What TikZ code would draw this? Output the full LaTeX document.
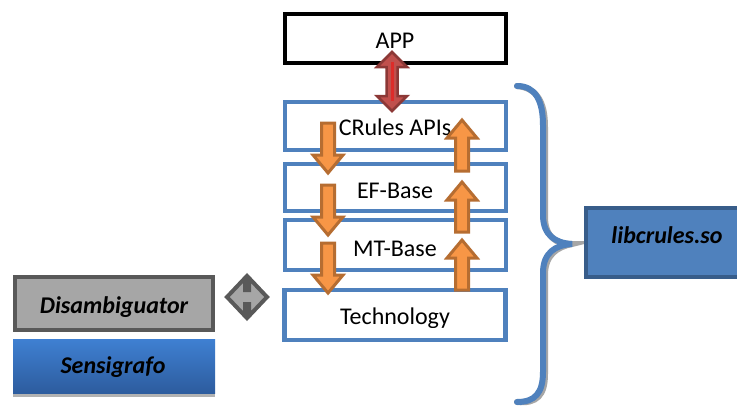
\documentclass[tikz,border=0pt]{standalone}
\usepackage{fontspec}
\setmainfont{Carlito}
\usetikzlibrary{calc}

\definecolor{layerblue}{HTML}{4F81BD}
\definecolor{layeredge}{HTML}{385D8A}
\definecolor{orangefill}{HTML}{F79646}
\definecolor{orangeedge}{HTML}{B66D31}
\definecolor{redfill}{HTML}{C0504D}
\definecolor{rededge}{HTML}{8C3836}
\definecolor{greyfill}{HTML}{A6A6A6}
\definecolor{greyedge}{HTML}{595959}
\definecolor{skytop}{HTML}{3F80D2}
\definecolor{skybottom}{HTML}{2D5C9E}

\tikzset{
  txt/.style={font=\fontsize{24}{28}\selectfont, inner sep=0pt, anchor=base},
  btxt/.style={txt, font=\fontsize{24}{28}\selectfont\bfseries\itshape},
  layer/.style={draw=layerblue, line width=4.5pt, fill=white, minimum width=221pt, inner sep=0pt},
  appbox/.style={draw=black, line width=4pt, fill=white, minimum width=221pt, minimum height=49pt, inner sep=0pt},
  flowarrow/.style={fill=orangefill, draw=orangeedge, line width=3pt, line join=miter},
  callarrow/.style={fill=redfill, draw=rededge, line width=2.5pt, line join=miter},
}

% fat block arrow: style, x, tail y, tip y
\newcommand\blockarrow[4]{%
  \pgfmathsetmacro\headdir{ifthenelse(#4>#3,18,-18)}%
  \pgfmathsetmacro\headbase{#4-\headdir}%
  \filldraw[#1] (#2-6.5,#3) -- (#2+6.5,#3) -- (#2+6.5,\headbase) -- (#2+15,\headbase)
    -- (#2,#4) -- (#2-15,\headbase) -- (#2-6.5,\headbase) -- cycle;
}

\begin{document}
\begin{tikzpicture}[x=1pt,y=-1pt]
\clip (0,0) rectangle (737,405);
\fill[white] (0,0) rectangle (737,405);

% application on top
\node[appbox] (app) at (395.5,38.5) {};
\node[txt] (appT) at (395,48) {APP};

% library layers
\node[layer, minimum height=48pt] (crules) at (395.5,126) {};
\node[layer, minimum height=47pt] (efbase) at (395.5,187.5) {};
\node[layer, minimum height=50pt] (mtbase) at (395.5,245) {};
\node[layer, minimum height=50pt] (tech) at (395,315) {};
\node[txt] (crulesT) at (395,135) {CRules APIs};
\node[txt] (efbaseT) at (395,198) {EF-Base};
\node[txt] (mtbaseT) at (395,256) {MT-Base};
\begin{scope}
  \clip (282,280) rectangle (508,327);
  \node[txt] (techT) at (395,324) {Technology};
\end{scope}

% calls going down the stack
\blockarrow{flowarrow}{328}{123}{173}
\blockarrow{flowarrow}{328}{185}{235}
\blockarrow{flowarrow}{328}{243}{293}
% results coming back up
\blockarrow{flowarrow}{462}{171}{120}
\blockarrow{flowarrow}{462}{232}{182}
\blockarrow{flowarrow}{462}{290}{240}

% application <-> API
\filldraw[callarrow] (392,52) -- (407,67) -- (397.5,67) -- (397.5,96) -- (407,96)
  -- (392,111) -- (377,96) -- (386.5,96) -- (386.5,67) -- (377,67) -- cycle;
\draw[line width=3pt, red!45!redfill] (392,62) -- (392,101);

% external modules
\node[draw=greyedge, fill=greyfill, line width=4.5pt, minimum width=198pt, minimum height=53pt, inner sep=0pt] (disamb) at (114,303.5) {};
\node[btxt] (disambT) at (114,313) {Disambiguator};
\fill[gray!60] (13,344) rectangle (215,397);
\node[shade, top color=skytop, bottom color=skybottom, minimum width=202pt, minimum height=54pt, inner sep=0pt] (sensi) at (114,366) {};
\node[btxt] (sensiT) at (113,373) {Sensigrafo};

% exchange between disambiguator and the stack
\filldraw[fill=greyfill, draw=greyedge, line width=4pt, line join=miter]
  (227,297) -- (245,278) -- (245,290) -- (249,290) -- (249,278) -- (267,297)
  -- (249,316) -- (249,304) -- (245,304) -- (245,316) -- cycle;

% brace grouping the layers
\coordinate (btop) at (517,86);
\coordinate (btip) at (572,244);
\coordinate (bbot) at (517,402);
\foreach \dx/\dy/\col/\lw in {2/2/gray!70/6, 0/0/layerblue/6}{
  \draw[\col, line width=\lw pt, line cap=round, shift={(\dx,\dy)}]
    (btop) .. controls (535,86) and (543,100) .. (543,125) -- (543,215)
    .. controls (543,235) and (555,243) .. (btip)
    .. controls (555,245) and (543,253) .. (543,273) -- (543,372)
    .. controls (543,393) and (535,402) .. (bbot);
}

% resulting shared library
\node[draw=layeredge, fill=layerblue, line width=3.5pt, minimum width=164pt, minimum height=69pt, inner sep=0pt] (lib) at (668,242.5) {};
\node[btxt] (libT) at (667,243) {libcrules.so};
\end{tikzpicture}
\end{document}
